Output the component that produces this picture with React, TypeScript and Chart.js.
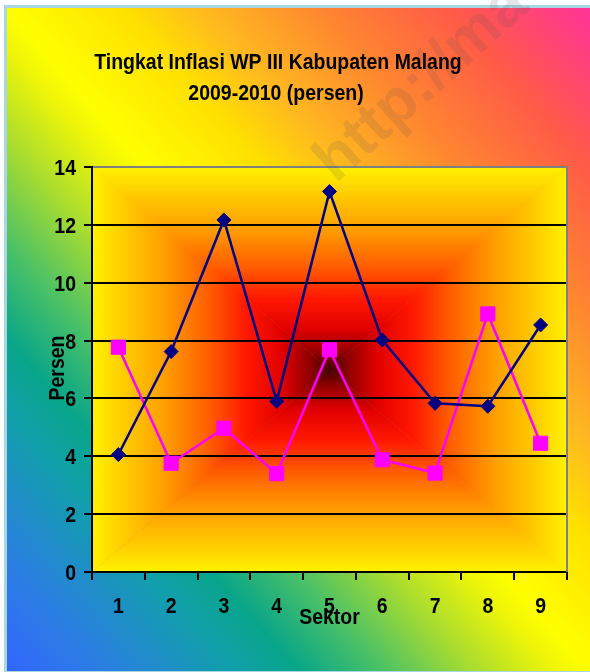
import React, { useEffect, useRef } from "react";
import { Chart, registerables } from "chart.js";

Chart.register(...registerables);

// ---- data ----
const categories: string[] = ["1", "2", "3", "4", "5", "6", "7", "8", "9"];
const series2009: number[] = [4.06, 7.62, 12.17, 5.9, 13.15, 8.02, 5.83, 5.73, 8.54];
const series2010: number[] = [7.77, 3.76, 4.97, 3.4, 7.68, 3.88, 3.42, 8.92, 4.45];
const seriesNames: string[] = ["2009", "2010"];
const yMin = 0;
const yMax = 14;
const yStep = 2;
const titleLines: string[] = ["Tingkat Inflasi WP III Kabupaten Malang", "2009-2010 (persen)"];
const xTitle = "Sektor";
const yTitle = "Persen";
const watermarkText = "http://ma";

const FONT = '"Liberation Sans", Arial, sans-serif';
const TEXT_SIZE = 22;
const SQUEEZE = 0.885;

const outerStops: [number, string][] = [
  [0.0, "#3366FF"],
  [0.09, "#2A80E0"],
  [0.2, "#10A0A8"],
  [0.25, "#08A58A"],
  [0.32, "#48C068"],
  [0.4, "#A8DC30"],
  [0.47, "#EEF508"],
  [0.5, "#FFFF00"],
  [0.6, "#FFE000"],
  [0.67, "#FFB820"],
  [0.77, "#FF8530"],
  [0.88, "#FF5A48"],
  [1.0, "#FF3399"],
];

const plotStops: [number, string][] = [
  [0.0, "#FFF200"],
  [0.12, "#FFD000"],
  [0.3, "#FFA000"],
  [0.5, "#FF5A00"],
  [0.65, "#FF1800"],
  [0.8, "#E00000"],
  [0.92, "#900000"],
  [1.0, "#400000"],
];

function drawText(
  ctx: CanvasRenderingContext2D,
  text: string,
  x: number,
  y: number,
  align: CanvasTextAlign,
  baseline: CanvasTextBaseline,
  rotation = 0
) {
  ctx.save();
  ctx.translate(x, y);
  if (rotation) ctx.rotate(rotation);
  ctx.scale(SQUEEZE, 1);
  ctx.font = `bold ${TEXT_SIZE}px ${FONT}`;
  ctx.fillStyle = "#000000";
  ctx.textAlign = align;
  ctx.textBaseline = baseline;
  ctx.fillText(text, 0, 0);
  ctx.restore();
}

const backgroundPlugin = {
  id: "bgPlugin",
  beforeDraw(chart: any) {
    const ctx = chart.ctx as CanvasRenderingContext2D;
    const W = chart.width;
    const H = chart.height;
    ctx.save();
    ctx.fillStyle = "#FFFFFF";
    ctx.fillRect(0, 0, W, H);
    ctx.fillStyle = "#A9D6E3";
    ctx.fillRect(4, 5, W - 4, H - 5);
    // outer diagonal gradient (isolines parallel to top-left/bottom-right diagonal)
    const x0 = 7, y0 = 8, x1 = W, y1 = H - 1;
    const w = x1 - x0, h = y1 - y0;
    const L2 = w * w + h * h;
    const k = (2 * w * h) / L2;
    const g = ctx.createLinearGradient(x0, y1, x0 + h * k, y1 - w * k);
    outerStops.forEach(([o, c]) => g.addColorStop(o, c));
    ctx.fillStyle = g;
    ctx.fillRect(x0, y0, w, h);

    // plot area rectangular path gradient
    const a = chart.chartArea;
    const l = a.left, t = a.top, r = a.right, b = a.bottom;
    const cx = (l + r) / 2, cy = (t + b) / 2;
    const tris: [number, number, number, number, number, number, number, number][] = [
      [l, t, r, t, cx, t, cx, cy],
      [r, t, r, b, r, cy, cx, cy],
      [r, b, l, b, cx, b, cx, cy],
      [l, b, l, t, l, cy, cx, cy],
    ];
    for (const [ax, ay, bx, by, gx0, gy0, gx1, gy1] of tris) {
      const lg = ctx.createLinearGradient(gx0, gy0, gx1, gy1);
      plotStops.forEach(([o, c]) => lg.addColorStop(o, c));
      ctx.beginPath();
      ctx.moveTo(ax, ay);
      ctx.lineTo(bx, by);
      ctx.lineTo(cx, cy);
      ctx.closePath();
      ctx.fillStyle = lg;
      ctx.fill();
      ctx.strokeStyle = lg;
      ctx.lineWidth = 0.6;
      ctx.stroke();
    }
    ctx.restore();
  },
  beforeDatasetsDraw(chart: any) {
    const ctx = chart.ctx as CanvasRenderingContext2D;
    const a = chart.chartArea;
    ctx.save();
    ctx.strokeStyle = "#808080";
    ctx.lineWidth = 2;
    ctx.beginPath();
    ctx.moveTo(a.right, a.top);
    ctx.lineTo(a.right, a.bottom);
    ctx.stroke();
    ctx.restore();
  },
  afterDraw(chart: any) {
    const ctx = chart.ctx as CanvasRenderingContext2D;
    const a = chart.chartArea;
    const xs = chart.scales.x;
    const ys = chart.scales.y;

    // titles
    drawText(ctx, titleLines[0], 278, 69, "center", "alphabetic");
    drawText(ctx, titleLines[1], 276, 100, "center", "alphabetic");

    // tick labels
    ys.ticks.forEach((tk: any) => {
      const py = ys.getPixelForValue(tk.value);
      drawText(ctx, String(tk.value), a.left - 16, py + 8, "right", "alphabetic");
    });
    categories.forEach((c, i) => {
      const px = xs.getPixelForValue(i);
      drawText(ctx, c, px, 613, "center", "alphabetic");
    });

    // axis titles
    drawText(ctx, xTitle, (a.left + a.right) / 2, 624, "center", "alphabetic");
    drawText(ctx, yTitle, 64, 368, "center", "alphabetic", -Math.PI / 2);

    // watermark
    ctx.save();
    ctx.translate(336, 184);
    ctx.rotate((-42 * Math.PI) / 180);
    ctx.font = `bold 62px ${FONT}`;
    ctx.textAlign = "left";
    ctx.fillStyle = "rgba(90, 80, 80, 0.15)";
    ctx.fillText(watermarkText, 0, 0);
    ctx.restore();
  },
};

export default function App() {
  const ref = useRef<HTMLCanvasElement | null>(null);

  useEffect(() => {
    const canvas = ref.current;
    if (!canvas) return;
    const chart = new Chart(canvas, {
      type: "line",
      data: {
        labels: categories,
        datasets: [
          {
            label: seriesNames[0],
            data: series2009,
            borderColor: "#000080",
            backgroundColor: "#000080",
            borderWidth: 2.5,
            pointStyle: "rectRot",
            pointRadius: 7,
            pointBorderWidth: 1,
            pointBorderColor: "#000080",
            pointBackgroundColor: "#000080",
            tension: 0,
            fill: false,
          },
          {
            label: seriesNames[1],
            data: series2010,
            borderColor: "#FF00FF",
            backgroundColor: "#FF00FF",
            borderWidth: 2.5,
            pointStyle: "rect",
            pointRadius: 10,
            pointBorderWidth: 1,
            pointBorderColor: "#FF00FF",
            pointBackgroundColor: "#FF00FF",
            tension: 0,
            fill: false,
          },
        ],
      },
      options: {
        responsive: false,
        animation: false,
        events: [],
        layout: { padding: { left: 0, right: 23, top: 167, bottom: 0 } },
        plugins: {
          legend: { display: false },
          title: { display: false },
          tooltip: { enabled: false },
        },
        scales: {
          x: {
            type: "category",
            offset: true,
            grid: {
              offset: true,
              drawOnChartArea: false,
              drawTicks: true,
              tickLength: 8,
              tickColor: "#000000",
              tickWidth: 2,
              lineWidth: 2,
            },
            border: { display: true, color: "#000000", width: 2 },
            ticks: { display: false, autoSkip: false },
            afterFit: (s: any) => {
              s.height = 100;
            },
          },
          y: {
            min: yMin,
            max: yMax,
            grid: {
              color: (c: any) => (c.tick && c.tick.value === yMax ? "#808080" : "#000000"),
              lineWidth: 2,
              tickLength: 8,
              tickColor: "#000000",
              tickWidth: 2,
            },
            border: { display: true, color: "#000000", width: 2 },
            ticks: { display: false, stepSize: yStep },
            afterFit: (s: any) => {
              s.width = 92;
            },
          },
        },
      },
      plugins: [backgroundPlugin],
    });
    return () => chart.destroy();
  }, []);

  return (
    <div style={{ position: "fixed", left: 0, top: 0, width: 590, height: 672 }}>
      <canvas ref={ref} width={590} height={672} style={{ width: 590, height: 672, display: "block" }} />
    </div>
  );
}
